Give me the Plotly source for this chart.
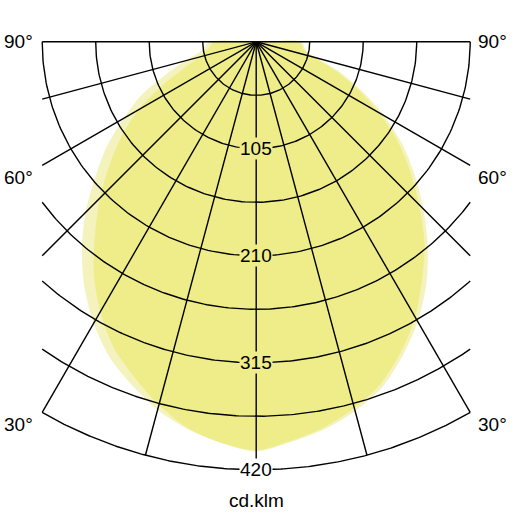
import numpy as np
import plotly.graph_objects as go

# luminous intensity distribution, cd/klm, gamma -90..90 (left half negative)
gamma = list(range(-90, 95, 5))
i_outer = [46, 50, 56, 72, 95, 125, 150, 179, 206, 237, 266, 294, 319, 341, 358, 374, 386, 395,
           402, 394, 386, 375, 361, 340, 317, 291, 262, 232, 203, 175, 145, 115, 88, 62, 50, 47, 45]
i_inner = [42, 45, 50, 58, 75, 102, 133, 161, 188, 217, 246, 278, 306, 331, 350, 369, 385, 395,
           401, 393, 384, 372, 357, 336, 312, 284, 257, 226, 197, 169, 139, 110, 83, 58, 48, 45, 43]

rings = [52.5 * i for i in range(1, 9)]
ring_labels = [105, 210, 315, 420]
spokes = list(range(-90, 91, 15))
angle_labels = ["90°", "60°", "30°"]
unit = "cd.klm"

r_max = 420
clip = r_max * np.sin(np.radians(30))  # grid is cut at |x| = 210

c_dark = "rgb(238,237,138)"
c_pale = "rgb(244,243,190)"
font = dict(family="Liberation Sans, Arial", size=19, color="black")


def to_xy(r, g):
    t = np.radians(np.asarray(g, dtype=float))
    return np.asarray(r) * np.sin(t), -np.asarray(r) * np.cos(t)


fig = go.Figure()

# light distribution curves
for vals, col in [(i_outer, c_pale), (i_inner, c_dark)]:
    x, y = to_xy(vals, gamma)
    fig.add_trace(go.Scatter(x=[0] + list(x) + [0], y=[0] + list(y) + [0],
                             mode="lines", fill="toself", fillcolor=col,
                             line=dict(width=0, color=col, shape="spline", smoothing=0.8),
                             hoverinfo="skip", showlegend=False))

# polar grid, arcs
for r in rings:
    phi = 90.0 if r <= clip else np.degrees(np.arcsin(clip / r))
    t = np.linspace(-phi, phi, 181)
    x, y = to_xy(np.full(t.shape, r), t)
    fig.add_trace(go.Scatter(x=x, y=y, mode="lines", line=dict(color="black", width=1.4),
                             hoverinfo="skip", showlegend=False))

# polar grid, spokes
for g in spokes:
    s = abs(np.sin(np.radians(g)))
    length = r_max if s == 0 else min(r_max, clip / s)
    x, y = to_xy([0, length], [g, g])
    fig.add_trace(go.Scatter(x=x, y=y, mode="lines", line=dict(color="black", width=1.4),
                             hoverinfo="skip", showlegend=False))

# ring value labels
for v in ring_labels:
    fig.add_annotation(x=0, y=-v, text=str(v), showarrow=False, font=font,
                       bgcolor="white" if v == r_max else c_dark, borderpad=0)

# angle labels
label_y = [0, -132.7, -376]
for txt, ly in zip(angle_labels, label_y):
    fig.add_annotation(x=-217, y=ly, text=txt, showarrow=False, font=font, xanchor="right")
    fig.add_annotation(x=215.5, y=ly, text=txt, showarrow=False, font=font, xanchor="left")

fig.add_annotation(x=0, y=-450.6, text=unit, showarrow=False, font=font)

k = 1.019
fig.update_xaxes(range=[-256.2 / k, (512 - 256.2) / k], visible=False, fixedrange=True)
fig.update_yaxes(range=[-(512 - 41.8) / k, 41.8 / k], visible=False, fixedrange=True)
fig.update_layout(width=512, height=512, margin=dict(l=0, r=0, t=0, b=0),
                  paper_bgcolor="white", plot_bgcolor="white", showlegend=False)

fig.write_html("out.html", config={"displayModeBar": False},
               post_script="document.body.style.margin='0';document.body.style.padding='0';")
